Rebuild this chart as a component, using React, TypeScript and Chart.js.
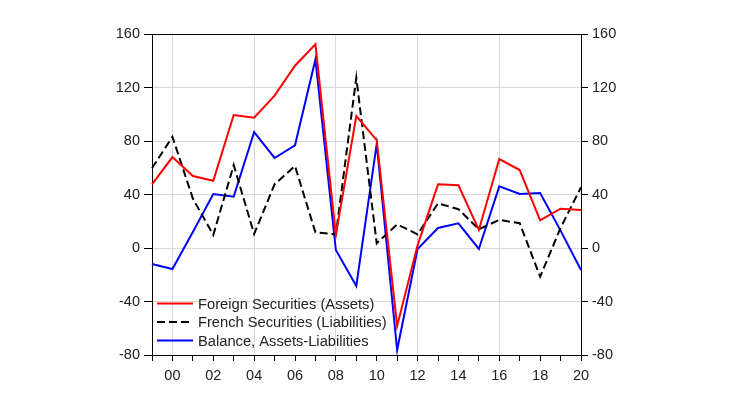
import { useEffect, useRef } from 'react'
import Chart from 'chart.js/auto'

const years = [
  '1999', '2000', '2001', '2002', '2003', '2004', '2005', '2006', '2007', '2008', '2009',
  '2010', '2011', '2012', '2013', '2014', '2015', '2016', '2017', '2018', '2019', '2020',
]

// Foreign Securities (Assets)
const foreignAssets = [
  47.6, 68, 53.8, 50.3, 99.4, 97.4, 113.9, 136.3, 152.3, 9.7, 98.7,
  80.7, -58.3, 2, 47.6, 46.9, 13.5, 66.5, 58.3, 20.7, 29.4, 28.4,
]

// French Securities (Liabilities)
const frenchLiabilities = [
  59.6, 83.2, 37, 9.7, 62, 10.5, 47.6, 61.3, 11.7, 10.2, 127.3,
  3.5, 17.7, 10.2, 33.4, 29, 14, 21, 18.5, -21.4, 15, 45.4,
]

// Balance, Assets-Liabilities
const balance = [
  -12, -15.7, 12, 40.4, 38.4, 86.7, 67.3, 76.8, 141, -1.5, -28.4,
  77.8, -76.3, -0.7, 15, 18.5, -0.7, 46.1, 40.4, 41.1, 13, -16.4,
]

const yMin = -80
const yMax = 160
const yStep = 40

const FONT = "'Liberation Sans', Arial, sans-serif"
const GRID = '#d9d9d9'
const TEXT = '#222'

const frameAndLegend = {
  id: 'frameAndLegend',
  afterDraw(chart: any) {
    const { ctx, chartArea } = chart
    ctx.save()
    ctx.strokeStyle = '#000'
    ctx.lineWidth = 1
    ctx.beginPath()
    ctx.moveTo(chartArea.left, chartArea.top + 0.5)
    ctx.lineTo(chartArea.right, chartArea.top + 0.5)
    ctx.stroke()

    // legend inside the plot, bottom-left
    const x0 = chartArea.left + 5
    let y = 303.5
    ctx.font = `14.7px ${FONT}`
    ctx.textBaseline = 'middle'
    ctx.textAlign = 'left'
    chart.data.datasets.forEach((ds: any) => {
      ctx.strokeStyle = ds.borderColor
      ctx.lineWidth = 2
      ctx.setLineDash(ds.borderDash || [])
      ctx.beginPath()
      ctx.moveTo(x0, y)
      ctx.lineTo(x0 + 36, y)
      ctx.stroke()
      ctx.setLineDash([])
      ctx.fillStyle = TEXT
      ctx.fillText(ds.label, x0 + 41, y + 1)
      y += 18.5
    })
    ctx.restore()
  },
}

export default function App() {
  const chartRef = useRef<HTMLCanvasElement>(null)
  const chartInstance = useRef<any>(null)

  useEffect(() => {
    document.body.style.margin = '0'
    if (chartInstance.current) chartInstance.current.destroy()
    const ctx = chartRef.current!.getContext('2d')!

    const yGridColor = (c: any) =>
      c.tick && (c.tick.value === yMin || c.tick.value === yMax) ? 'rgba(0,0,0,0)' : GRID

    chartInstance.current = new Chart(ctx, {
      type: 'line',
      data: {
        labels: years,
        datasets: [
          {
            label: 'Foreign Securities (Assets)',
            data: foreignAssets,
            borderColor: '#ff0000',
            backgroundColor: '#ff0000',
            borderWidth: 2,
            pointRadius: 0,
            tension: 0,
          },
          {
            label: 'French Securities (Liabilities)',
            data: frenchLiabilities,
            borderColor: '#000000',
            backgroundColor: '#000000',
            borderDash: [8, 4],
            borderWidth: 2,
            pointRadius: 0,
            tension: 0,
          },
          {
            label: 'Balance, Assets-Liabilities',
            data: balance,
            borderColor: '#0000ff',
            backgroundColor: '#0000ff',
            borderWidth: 2,
            pointRadius: 0,
            tension: 0,
          },
        ],
      },
      options: {
        animation: false,
        responsive: true,
        maintainAspectRatio: false,
        layout: { padding: { top: 34, left: 0, right: 0, bottom: 0 } },
        font: { family: FONT },
        plugins: {
          legend: { display: false },
          tooltip: { enabled: false },
        },
        scales: {
          x: {
            offset: false,
            border: { display: true, color: '#000', width: 1 },
            grid: {
              offset: false,
              color: (c: any) => {
                const yr = Number(years[c.index])
                return yr % 4 === 0 && c.index > 0 && c.index < years.length - 1 ? GRID : 'rgba(0,0,0,0)'
              },
              tickColor: '#000',
              tickLength: 6,
            },
            ticks: {
              autoSkip: false,
              maxRotation: 0,
              padding: 6,
              color: TEXT,
              font: { family: FONT, size: 14.5 },
              callback: (_v: any, i: number) => (Number(years[i]) % 2 === 0 ? years[i].slice(2) : ''),
            },
            afterFit: (s: any) => {
              s.height = 55
            },
          },
          y: {
            position: 'left',
            min: yMin,
            max: yMax,
            border: { display: true, color: '#000', width: 1 },
            grid: { color: yGridColor, tickColor: '#000', tickLength: 8 },
            ticks: {
              stepSize: yStep,
              padding: 4,
              color: TEXT,
              font: { family: FONT, size: 14.5 },
            },
            afterFit: (s: any) => {
              s.width = 152
            },
          },
          y1: {
            position: 'right',
            min: yMin,
            max: yMax,
            border: { display: true, color: '#000', width: 1 },
            grid: { drawOnChartArea: false, tickColor: '#000', tickLength: 7 },
            ticks: {
              stepSize: yStep,
              padding: 4,
              color: TEXT,
              font: { family: FONT, size: 14.5 },
            },
            afterFit: (s: any) => {
              s.width = 149
            },
          },
        },
      },
      plugins: [frameAndLegend],
    })

    return () => {
      if (chartInstance.current) {
        chartInstance.current.destroy()
        chartInstance.current = null
      }
    }
  }, [])

  return (
    <div style={{ width: 730, height: 410, position: 'relative', background: '#fff' }}>
      <canvas ref={chartRef} />
    </div>
  )
}
